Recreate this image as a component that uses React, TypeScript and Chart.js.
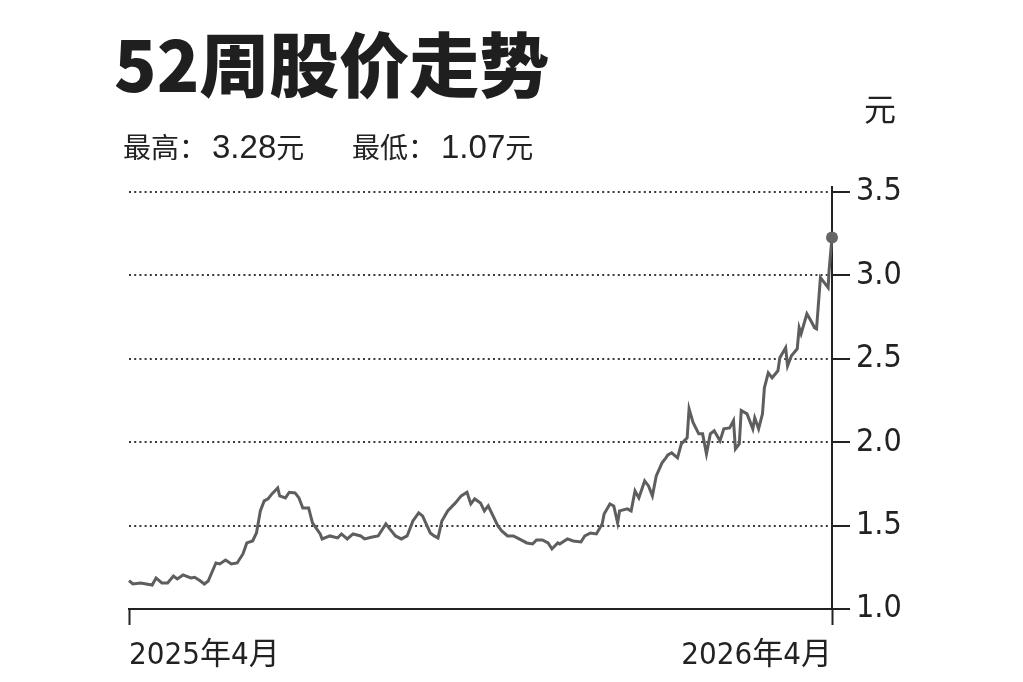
import React, { useEffect, useRef } from "react";
import { Chart, registerables } from "chart.js";

Chart.register(...registerables);

// Trading-day position within the 52-week window (0 = April 2025, 364 = April 2026)
const days = [
  0, 2, 6, 12, 14, 17, 20, 23, 25, 28, 32, 34, 37, 39, 41, 45, 47, 50, 53, 56,
  59, 61, 64, 66, 68, 70, 72, 74, 77, 78, 81, 83, 86, 88, 90, 93, 95, 99, 100, 104,
  108, 110, 113, 116, 120, 122, 126, 129, 133, 135, 138, 141, 144, 147, 150, 152, 156, 158, 160, 162,
  165, 169, 172, 175, 177, 179, 182, 184, 186, 188, 191, 193, 196, 199, 202, 206, 209, 211, 214, 217,
  219, 222, 223, 227, 230, 234, 236, 239, 242, 245, 246, 249, 251, 253, 254, 258, 260, 262, 264, 267,
  269, 271, 273, 276, 278, 279, 281, 284, 286, 289, 290, 292, 295, 297, 299, 301, 303, 306, 308, 311,
  313, 314, 316, 317, 320, 323, 324, 326, 328, 329, 331, 333, 336, 337, 340, 341, 343, 346, 347, 348,
  351, 353, 355, 356, 358, 360, 362, 362.5, 364,
];

// Closing price (元)
const prices = [
  1.17, 1.15, 1.156, 1.144, 1.186, 1.156, 1.156, 1.198, 1.18, 1.204, 1.186, 1.19, 1.168, 1.15, 1.168, 1.276, 1.27, 1.294, 1.27, 1.276,
  1.33, 1.396, 1.408, 1.456, 1.588, 1.648, 1.66, 1.69, 1.726, 1.678, 1.666, 1.7, 1.696, 1.666, 1.606, 1.606, 1.516, 1.45, 1.42, 1.438,
  1.426, 1.45, 1.42, 1.45, 1.438, 1.42, 1.432, 1.438, 1.51, 1.48, 1.438, 1.42, 1.438, 1.528, 1.576, 1.558, 1.456, 1.438, 1.426, 1.528,
  1.588, 1.636, 1.678, 1.7, 1.63, 1.66, 1.636, 1.588, 1.618, 1.57, 1.498, 1.468, 1.438, 1.438, 1.42, 1.396, 1.39, 1.414, 1.414, 1.396,
  1.36, 1.396, 1.39, 1.42, 1.408, 1.402, 1.438, 1.456, 1.45, 1.51, 1.57, 1.63, 1.618, 1.516, 1.588, 1.6, 1.588, 1.708, 1.666, 1.768,
  1.738, 1.678, 1.798, 1.876, 1.906, 1.924, 1.936, 1.906, 1.99, 2.026, 2.2, 2.12, 2.05, 2.05, 1.93, 2.05, 2.068, 2.008, 2.08, 2.086,
  2.13, 1.96, 1.99, 2.19, 2.17, 2.08, 2.146, 2.08, 2.17, 2.326, 2.416, 2.386, 2.428, 2.506, 2.566, 2.458, 2.518, 2.56, 2.686, 2.65,
  2.77, 2.73, 2.686, 2.68, 2.987, 2.957, 2.927, 3.03, 3.227,
];

const yTicks = [1.0, 1.5, 2.0, 2.5, 3.0, 3.5];
const xTickDays = [0, 364];
const xTickLabels = ["2025年4月", "2026年4月"];

const title = "52周股价走势";
const highLabel = "最高：";
const highValue = "3.28";
const lowLabel = "最低：";
const lowValue = "1.07";
const unitText = "元";

const NARROW = '"DejaVu Sans Condensed", "Noto Sans CJK SC", sans-serif';

export default function App() {
  const canvasRef = useRef<HTMLCanvasElement | null>(null);

  useEffect(() => {
    document.body.style.margin = "0";
    const canvas = canvasRef.current;
    if (!canvas) return;
    const points = days.map((d, i) => ({ x: d, y: prices[i] }));
    const last = points.length - 1;
    const chart = new Chart(canvas, {
      type: "line",
      data: {
        datasets: [
          {
            data: points,
            borderColor: "#5e5e5e",
            borderWidth: 3,
            tension: 0,
            pointRadius: (ctx: any) => (ctx.dataIndex === last ? 6 : 0),
            pointBackgroundColor: "#666666",
            pointBorderWidth: 0,
            clip: false as any,
          },
        ],
      },
      options: {
        animation: false,
        responsive: true,
        maintainAspectRatio: false,
        layout: { padding: { left: 129, top: 187, right: 91, bottom: 13 } },
        plugins: { legend: { display: false }, tooltip: { enabled: false } },
        scales: {
          x: {
            type: "linear",
            min: 0,
            max: 364,
            afterBuildTicks: (scale: any) => {
              scale.ticks = xTickDays.map((v) => ({ value: v }));
            },
            afterFit: (scale: any) => {
              scale.height = 60;
            },
            border: { display: true, color: "#222222", width: 2 },
            grid: {
              display: true,
              drawOnChartArea: false,
              drawTicks: true,
              tickLength: 16,
              tickColor: "#222222",
              tickWidth: 2,
            },
            ticks: {
              align: "inner",
              maxRotation: 0,
              autoSkip: false,
              padding: 12,
              color: "#222222",
              font: { family: NARROW, size: 31 },
              callback: (_v: any, i: number) => xTickLabels[i],
            },
          },
          y: {
            type: "linear",
            position: "right",
            min: 1.0,
            max: 3.53,
            afterBuildTicks: (scale: any) => {
              scale.ticks = yTicks.map((v) => ({ value: v }));
            },
            afterFit: (scale: any) => {
              scale.width = 100;
            },
            border: { display: true, color: "#222222", width: 2, dash: [2, 3.2] },
            grid: {
              display: true,
              drawOnChartArea: true,
              color: (ctx: any) => (ctx.tick && ctx.tick.value === 1 ? "rgba(0,0,0,0)" : "#3a3a3a"),
              lineWidth: 2,
              drawTicks: true,
              tickLength: 18,
              tickColor: "#222222",
              tickWidth: 2,
              tickBorderDash: [1, 0],
            },
            ticks: {
              padding: 6,
              color: "#222222",
              font: { family: NARROW, size: 32 },
              callback: (v: any) => Number(v).toFixed(1),
            },
          },
        },
      },
    });
    return () => chart.destroy();
  }, []);

  const cjk: React.CSSProperties = { fontFamily: '"Noto Sans CJK SC", sans-serif', fontSize: 28 };
  const num: React.CSSProperties = { fontFamily: '"Liberation Sans", sans-serif', fontSize: 33 };

  return (
    <div
      style={{
        position: "absolute",
        left: 0,
        top: 0,
        width: 1023,
        height: 682,
        background: "#ffffff",
        overflow: "hidden",
      }}
    >
      <canvas ref={canvasRef} />
      <div
        style={{
          position: "absolute",
          left: 114,
          top: 22,
          fontFamily: '"Noto Sans CJK SC", sans-serif',
          fontWeight: 900,
          fontSize: 70,
          lineHeight: "80px",
          letterSpacing: 0,
          color: "#1f1f1f",
          whiteSpace: "nowrap",
        }}
      >
        {title}
      </div>
      <div
        style={{
          position: "absolute",
          left: 123,
          top: 126,
          lineHeight: "40px",
          color: "#222222",
          whiteSpace: "nowrap",
        }}
      >
        <span style={cjk}>{highLabel}</span>
        <span style={{ ...num, marginLeft: 5 }}>{highValue}</span>
        <span style={cjk}>{unitText}</span>
      </div>
      <div
        style={{
          position: "absolute",
          left: 352,
          top: 126,
          lineHeight: "40px",
          color: "#222222",
          whiteSpace: "nowrap",
        }}
      >
        <span style={cjk}>{lowLabel}</span>
        <span style={{ ...num, marginLeft: 5 }}>{lowValue}</span>
        <span style={cjk}>{unitText}</span>
      </div>
      <div
        style={{
          position: "absolute",
          left: 864,
          top: 88,
          fontFamily: '"Noto Sans CJK SC", sans-serif',
          fontSize: 32,
          lineHeight: "38px",
          color: "#222222",
        }}
      >
        {unitText}
      </div>
    </div>
  );
}
